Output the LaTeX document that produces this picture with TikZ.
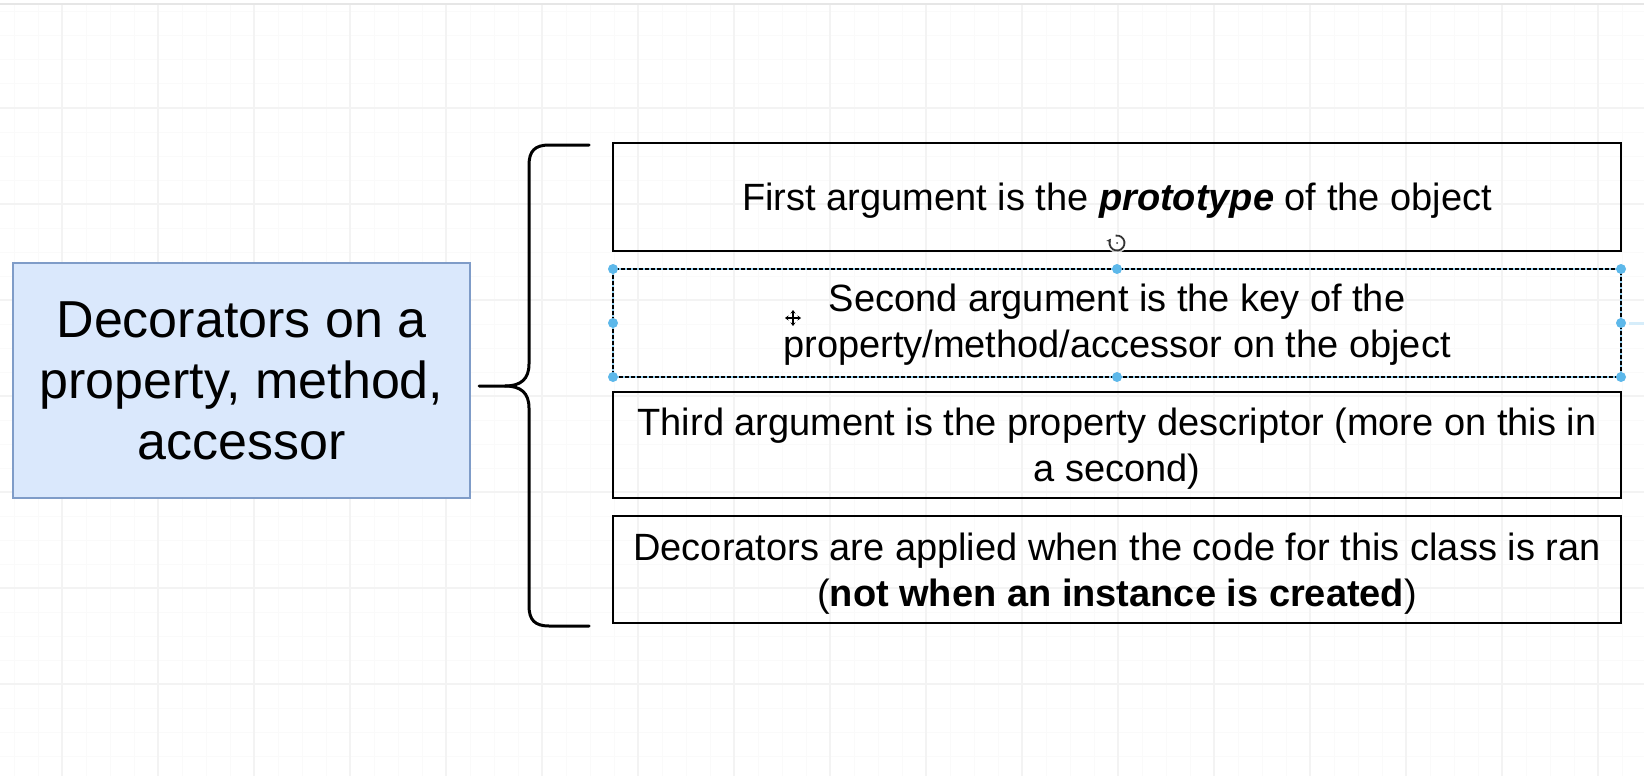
\documentclass[tikz,border=0pt]{standalone}
\usepackage{fontspec}
\setmainfont{Liberation Sans}
\usetikzlibrary{arrows.meta}
\definecolor{gridminor}{HTML}{FAFAFA}
\definecolor{gridmajor}{HTML}{F3F3F3}
\definecolor{topband}{HTML}{E6E6E6}
\definecolor{leftfill}{HTML}{DAE8FC}
\definecolor{leftdraw}{HTML}{7F9CC8}
\definecolor{handle}{HTML}{5DB8EA}
\begin{document}
\begin{tikzpicture}[x=1pt,y=-1pt,
  argbox/.style={draw=black, line width=2.5pt, minimum width=1008pt, inner sep=0pt, outer sep=0pt},
  argtext/.style={inner sep=0pt, align=center, font=\fontsize{38}{46}\selectfont},
  mainbox/.style={draw=leftdraw, fill=leftfill, line width=2pt, minimum width=457pt, minimum height=235pt, inner sep=0pt, outer sep=0pt, align=center, font=\fontsize{52}{61}\selectfont},
  bracestyle/.style={draw=black, line width=3pt, line cap=round},
  handledot/.style={fill=handle},
  minorline/.style={draw=gridminor, line width=1pt},
  majorline/.style={draw=gridmajor, line width=1.3pt}]
\useasboundingbox (0,0) rectangle (1644,776);
\fill[white] (0,0) rectangle (1644,776);
% grid
\foreach \k in {0,...,68} {\draw[minorline] (14+24*\k,5) -- (14+24*\k,776);}
\foreach \k in {0,...,32} {\draw[minorline] (0,12+24*\k) -- (1644,12+24*\k);}
\foreach \k in {0,...,17} {\draw[majorline] (62+96*\k,5) -- (62+96*\k,776);}
\foreach \k in {0,...,7} {\draw[majorline] (0,108+96*\k) -- (1644,108+96*\k);}
\draw[topband, line width=2.5pt] (0,4) -- (1644,4);

% left box
\node[mainbox] (main) at (241.5,380.5) {Decorators on a\\property, method,\\accessor};

% right boxes
\node[argbox, minimum height=108pt] (b1) at (1117,197) {};
\node[argtext] (t1) at ([yshift=-4pt]b1.center) {First argument is the \textbf{\textit{prototype}} of the object};
\node[argbox, draw=handle!70, line width=1.5pt, minimum height=108pt] (b2) at (1117,323) {};
\draw[black, line width=1.5pt, dash pattern=on 4pt off 2pt] (b2.north west) rectangle (b2.south east);
\node[argtext] (t2) at ([yshift=-2pt]b2.center) {Second argument is the key of the\\property/method/accessor on the object};
\node[argbox, minimum height=106pt] (b3) at (1117,445) {};
\node[argtext] (t3) at ([yshift=-4pt]b3.center) {Third argument is the property descriptor (more on this in\\a second)};
\node[argbox, minimum height=107pt] (b4) at (1117,569.5) {};
\node[argtext] (t4) at ([yshift=-4pt]b4.center) {Decorators are applied when the code for this class is ran\\(\textbf{not when an instance is created})};

% brace
\coordinate (brtop) at (589,145);
\coordinate (brmid) at (479,386);
\coordinate (brbot) at (589,626);
\draw[bracestyle] (brtop) -- (549,145) .. controls (535,145) and (529,151) .. (529,165)
  -- (529,364) .. controls (529,379) and (521,386) .. (505,386) -- (brmid);
\draw[bracestyle] (505,386) .. controls (521,386) and (529,393) .. (529,408)
  -- (529,606) .. controls (529,620) and (535,626) .. (549,626) -- (brbot);

% selection handles
\coordinate (edgeR) at (1644,323);
\draw[handle!25, line width=3pt] ([xshift=8pt]b2.east) -- (edgeR);
\foreach \a in {north west,north,north east,east,south east,south,south west,west}
  {\fill[handledot] (b2.\a) circle[radius=5pt];}

% rotate icon
\coordinate (rot) at (1117,243);
\fill[white, opacity=0.8] (rot) circle[radius=10pt];
\draw[black!80, line width=1.8pt, -{Stealth[length=4.5pt,width=5pt]}] ([shift={(100:7.5pt)}]rot) arc[start angle=100, end angle=-215, radius=7.5pt];
\fill[black!80] (rot) circle[radius=1pt];

% move cursor
\coordinate (mv) at (793,318);
\draw[white, line width=3.5pt] ([xshift=-8pt]mv) -- ([xshift=8pt]mv) ([yshift=-8pt]mv) -- ([yshift=8pt]mv);
\draw[black, line width=1.5pt, {Stealth[length=3.5pt,width=5pt]}-{Stealth[length=3.5pt,width=5pt]}] ([xshift=-8pt]mv) -- ([xshift=8pt]mv);
\draw[black, line width=1.5pt, {Stealth[length=3.5pt,width=5pt]}-{Stealth[length=3.5pt,width=5pt]}] ([yshift=-8pt]mv) -- ([yshift=8pt]mv);
\end{tikzpicture}
\end{document}
